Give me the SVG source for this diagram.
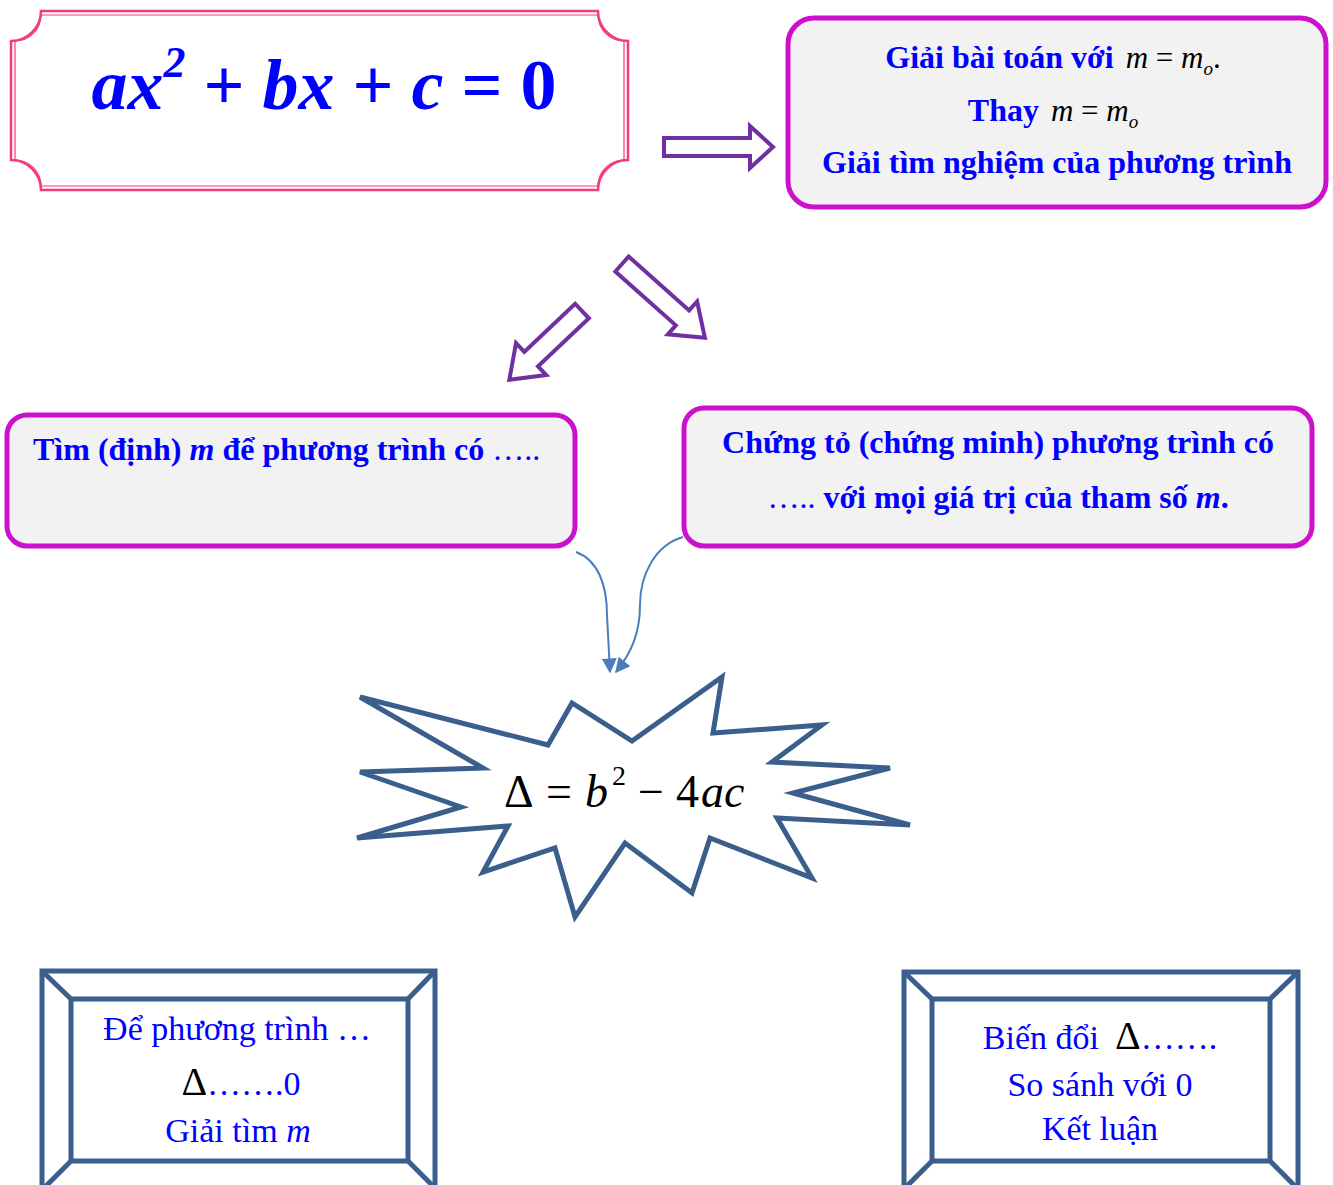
<svg xmlns="http://www.w3.org/2000/svg" width="1333" height="1185" viewBox="0 0 1333 1185">
<style>
.bg{fill:#ffffff}
.pink{fill:none;stroke:#F23A7E}
.rbox{fill:#F2F2F2;stroke:#CC11CC;stroke-width:5}
.harrow{fill:#ffffff;stroke:#7030A0;stroke-width:4;stroke-linejoin:miter}
.conn{fill:none;stroke:#4A7EBB;stroke-width:2}
.star{fill:#ffffff;stroke:#3B5F8C;stroke-width:5;stroke-linejoin:miter}
.frame{fill:#ffffff;stroke:#3B5F8C;stroke-width:5}
.fl{stroke:#3B5F8C;stroke-width:5}
.tb{font-family:"Liberation Serif",serif;font-weight:bold;fill:#0000FF}
.tr{font-family:"Liberation Serif",serif;fill:#0000FF}
.math{font-family:"Liberation Serif",serif;fill:#000000;font-weight:normal}
</style>
<defs>
<marker id="ah" viewBox="0 0 10 10" refX="9" refY="5" markerWidth="18" markerHeight="15" orient="auto" markerUnits="userSpaceOnUse">
<path d="M0,0 L10,5 L0,10 Z" fill="#4A7EBB"/>
</marker>
</defs>
<rect class="bg" x="0" y="0" width="1333" height="1185"/>

<g id="equation">
<path class="pink" stroke-width="2.5" fill="#ffffff" d="M41,11 H598 A30,30 0 0 0 628,41 V160 A30,30 0 0 0 598,190 H41 A30,30 0 0 0 11,160 V41 A30,30 0 0 0 41,11 Z"/>
<path class="pink" stroke-width="1.2" d="M41,15 H598 A26,26 0 0 0 624,41 V160 A26,26 0 0 0 598,186 H41 A26,26 0 0 0 15,160 V41 A26,26 0 0 0 41,15 Z"/>
<text class="tb" x="324" y="109" font-size="72" text-anchor="middle" font-style="italic">ax<tspan font-size="44" dy="-32">2</tspan><tspan dy="32" font-style="normal"> + </tspan>bx<tspan font-style="normal"> + </tspan>c<tspan font-style="normal"> = 0</tspan></text>
</g>

<g id="solve-m0">
<rect class="rbox" x="788" y="18" width="538" height="189" rx="26" ry="26"/>
<text class="tb" x="1053" y="68" font-size="32" text-anchor="middle">Giải bài toán với<tspan class="math" font-style="italic" font-size="31" dx="12">m</tspan><tspan class="math" font-size="31"> = </tspan><tspan class="math" font-style="italic" font-size="31">m</tspan><tspan class="math" font-style="italic" font-size="19" dy="7">o</tspan><tspan class="math" dy="-7" font-size="31">.</tspan></text>
<text class="tb" x="1053" y="121" font-size="32" text-anchor="middle">Thay<tspan class="math" font-style="italic" font-size="31" dx="12">m</tspan><tspan class="math" font-size="31"> = </tspan><tspan class="math" font-style="italic" font-size="31">m</tspan><tspan class="math" font-style="italic" font-size="19" dy="7">o</tspan></text>
<text class="tb" x="1057" y="173" font-size="32" text-anchor="middle">Giải tìm nghiệm của phương trình</text>
</g>

<g id="find-m">
<rect class="rbox" x="7" y="415" width="568" height="131" rx="20" ry="20"/>
<text class="tb" x="33" y="460" font-size="32">Tìm (định) <tspan font-style="italic">m</tspan> để phương trình có <tspan font-weight="normal">…..</tspan></text>
</g>

<g id="prove">
<rect class="rbox" x="684" y="408" width="628" height="138" rx="20" ry="20"/>
<text class="tb" x="998" y="453" font-size="32" text-anchor="middle">Chứng tỏ (chứng minh) phương trình có</text>
<text class="tb" x="998" y="508" font-size="32" text-anchor="middle"><tspan font-weight="normal">…..</tspan> với mọi giá trị của tham số <tspan font-style="italic">m</tspan>.</text>
</g>

<g id="delta">
<polygon class="star" points="360,697 548,745 572,703 632,741 722,677 713,733 822,725 772,762 890,768 793,793 910,825 777,818 812,878 710,838 692,893 625,843 575,917 555,848 483,872 508,826 357,838 461,807 360,772 483,768"/>
<text class="math" y="807" font-size="46"><tspan x="504">Δ</tspan><tspan x="546">=</tspan><tspan x="585" font-style="italic">b</tspan><tspan x="612" y="785" font-size="28">2</tspan><tspan x="638" y="807">−</tspan><tspan x="676">4</tspan><tspan x="701" font-style="italic">ac</tspan></text>
</g>

<g id="method-left">
<rect class="frame" x="42" y="971" width="393" height="220"/>
<rect class="frame" x="71" y="999" width="337" height="162"/>
<line class="fl" x1="42" y1="971" x2="71" y2="999"/>
<line class="fl" x1="435" y1="971" x2="408" y2="999"/>
<line class="fl" x1="71" y1="1161" x2="42" y2="1190"/>
<line class="fl" x1="408" y1="1161" x2="435" y2="1188"/>
<text class="tr" x="237" y="1040" font-size="34" text-anchor="middle">Để phương trình …</text>
<text class="tr" x="241" y="1095" font-size="34" text-anchor="middle"><tspan class="math" font-size="40">Δ</tspan>…….0</text>
<text class="tr" x="238" y="1142" font-size="34" text-anchor="middle">Giải tìm <tspan font-style="italic">m</tspan></text>
</g>

<g id="method-right">
<rect class="frame" x="904" y="972" width="394" height="220"/>
<rect class="frame" x="932" y="999" width="338" height="162"/>
<line class="fl" x1="904" y1="972" x2="932" y2="999"/>
<line class="fl" x1="1298" y1="972" x2="1270" y2="999"/>
<line class="fl" x1="932" y1="1161" x2="904" y2="1189"/>
<line class="fl" x1="1270" y1="1161" x2="1298" y2="1189"/>
<text class="tr" x="1100" y="1049" font-size="34" text-anchor="middle">Biến đổi<tspan class="math" font-size="40" dx="16">Δ</tspan>…….</text>
<text class="tr" x="1100" y="1096" font-size="34" text-anchor="middle">So sánh với 0</text>
<text class="tr" x="1100" y="1140" font-size="34" text-anchor="middle">Kết luận</text>
</g>

<g id="connectors">
<path class="harrow" d="M664,138 H750 V126 L773,147 L750,168 V156 H664 Z"/>
<path class="harrow" transform="translate(582,311) rotate(136.6)" d="M0,-10 H70 V-22 L100,0 L70,22 V10 H0 Z"/>
<path class="harrow" transform="translate(622,264) rotate(41.7)" d="M0,-10 H81 V-22 L111,0 L81,22 V10 H0 Z"/>
<path class="conn" marker-end="url(#ah)" d="M576,552 C598,560 607,585 607,615 L610,672"/>
<path class="conn" marker-end="url(#ah)" d="M683,537 C655,545 640,575 640,605 C640,632 632,652 616,672"/>
</g>
</svg>
